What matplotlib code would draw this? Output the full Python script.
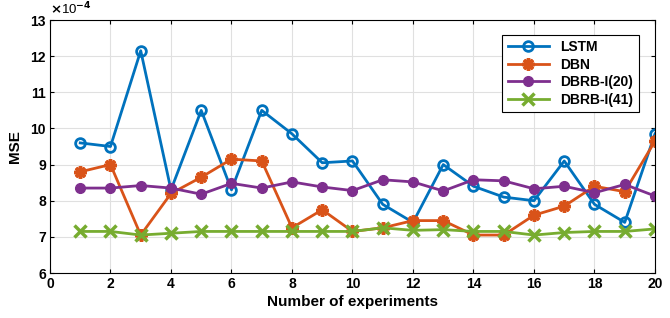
import numpy as np
import matplotlib.pyplot as plt

plt.rcParams['font.family'] = ['Liberation Sans', 'DejaVu Sans']
plt.rcParams['font.weight'] = 'bold'

# MSE values, in units of 1e-4
experiments = np.arange(1, 21)
lstm = [9.6, 9.5, 12.15, 8.3, 10.5, 8.3, 10.5, 9.85, 9.05, 9.1,
        7.9, 7.4, 9.0, 8.4, 8.1, 8.0, 9.1, 7.9, 7.4, 9.85]
dbn = [8.8, 9.0, 7.05, 8.2, 8.65, 9.15, 9.1, 7.25, 7.75, 7.15,
       7.25, 7.45, 7.45, 7.05, 7.05, 7.6, 7.85, 8.4, 8.25, 9.65]
dbrb20 = [8.35, 8.35, 8.42, 8.35, 8.18, 8.48, 8.35, 8.52, 8.38, 8.28,
          8.58, 8.52, 8.27, 8.58, 8.55, 8.33, 8.4, 8.22, 8.45, 8.13]
dbrb41 = [7.15, 7.15, 7.05, 7.1, 7.15, 7.15, 7.15, 7.15, 7.15, 7.15,
          7.25, 7.18, 7.2, 7.15, 7.15, 7.05, 7.12, 7.15, 7.15, 7.22]

fig = plt.figure(figsize=(6.7, 3.18), dpi=100)
ax = fig.add_axes([0.0746, 0.1415, 0.903, 0.7956])

ax.plot(experiments, lstm, '-o', color='#0072BD', lw=2, ms=7, mew=2,
        mfc='none', label='LSTM')
ax.plot(experiments, dbn, '-', marker=(8, 2, 0), color='#D95319', lw=2,
        ms=9, mew=2.5, label='DBN')
ax.plot(experiments, dbrb20, '-o', color='#7E2F8E', lw=2, ms=7,
        label='DBRB-I(20)')
ax.plot(experiments, dbrb41, '-x', color='#77AC30', lw=2, ms=8, mew=2.5,
        label='DBRB-I(41)')

ax.set_xlim(0, 20)
ax.set_ylim(6, 13)
ax.set_xticks(np.arange(0, 21, 2))
ax.set_yticks(np.arange(6, 14, 1))
ax.grid(True, color='#e0e0e0', lw=0.8)
ax.set_axisbelow(True)
ax.tick_params(direction='in', top=True, right=True, labelsize=10,
               length=3, pad=3)
for s in ax.spines.values():
    s.set_linewidth(0.8)
ax.set_xlabel('Number of experiments', fontsize=11, fontweight='bold', labelpad=3)
ax.set_ylabel('MSE', fontsize=11, fontweight='bold', labelpad=6)
ax.text(0.0, 1.012, r'$\times$10$^{-4}$', transform=ax.transAxes,
        fontsize=9.5, fontweight='normal', va='bottom', ha='left')

leg = ax.legend(loc='upper right', bbox_to_anchor=(0.985, 0.97), fontsize=10,
                fancybox=False, edgecolor='black', framealpha=1,
                handlelength=3, borderpad=0.4, labelspacing=0.25)
leg.get_frame().set_linewidth(0.8)

fig.savefig('out.png', dpi=100)
